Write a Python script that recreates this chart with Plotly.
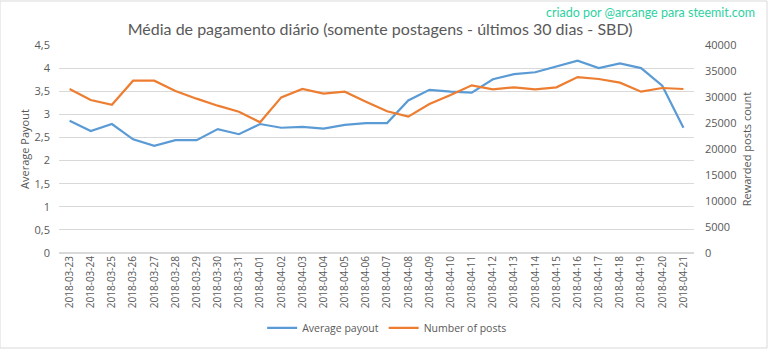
import plotly.graph_objects as go

dates = [
    "2018-03-23", "2018-03-24", "2018-03-25", "2018-03-26", "2018-03-27",
    "2018-03-28", "2018-03-29", "2018-03-30", "2018-03-31", "2018-04-01",
    "2018-04-02", "2018-04-03", "2018-04-04", "2018-04-05", "2018-04-06",
    "2018-04-07", "2018-04-08", "2018-04-09", "2018-04-10", "2018-04-11",
    "2018-04-12", "2018-04-13", "2018-04-14", "2018-04-15", "2018-04-16",
    "2018-04-17", "2018-04-18", "2018-04-19", "2018-04-20", "2018-04-21",
]

average_payout = [
    2.86, 2.64, 2.79, 2.46, 2.32, 2.44, 2.44, 2.68, 2.57, 2.79,
    2.71, 2.73, 2.69, 2.77, 2.81, 2.81, 3.30, 3.53, 3.49, 3.47,
    3.76, 3.87, 3.91, 4.03, 4.16, 4.00, 4.10, 4.00, 3.62, 2.71,
]

number_of_posts = [
    31540, 29420, 28520, 33140, 33140, 31150, 29680, 28330, 27180, 25130,
    29930, 31540, 30640, 31020, 29100, 27250, 26220, 28650, 30380, 32240,
    31470, 31860, 31470, 31860, 33840, 33460, 32760, 31020, 31730, 31540,
]

left_ticks = [0, 0.5, 1, 1.5, 2, 2.5, 3, 3.5, 4, 4.5]
right_ticks = [0, 5000, 10000, 15000, 20000, 25000, 30000, 35000, 40000]

TEXT = "#595959"
GRID = "#d9d9d9"
FONT = "Open Sans"

fig = go.Figure()
fig.add_trace(go.Scatter(
    x=dates, y=average_payout, name="Average payout", mode="lines",
    line=dict(color="#5b9bd5", width=2.2), yaxis="y",
))
fig.add_trace(go.Scatter(
    x=dates, y=number_of_posts, name="Number of posts", mode="lines",
    line=dict(color="#ed7d31", width=2.2), yaxis="y2",
))

fig.update_layout(
    width=768, height=349,
    margin=dict(l=59, r=74, t=45, b=96, autoexpand=False),
    paper_bgcolor="white", plot_bgcolor="white",
    separators=",.",
    font=dict(family=FONT, color=TEXT, size=11),
    title=dict(
        text="Média de pagamento diário (somente postagens - últimos 30 dias - SBD)",
        x=0.495, xanchor="center", y=0.917, yanchor="middle",
        font=dict(family="Lato", size=16, color=TEXT),
    ),
    xaxis=dict(
        type="category", range=[-0.5, 29.5], automargin=False,
        tickangle=-90, tickfont=dict(size=10, color=TEXT),
        showgrid=False, showline=False, ticks="",
    ),
    yaxis=dict(
        range=[0, 4.5], tickvals=left_ticks, automargin=False,
        gridcolor=GRID, gridwidth=1, zeroline=True, zerolinecolor=GRID,
        showline=False, ticks="", ticklabelstandoff=8,
        title=dict(text="Average Payout", font=dict(size=11, color=TEXT), standoff=2),
        tickfont=dict(size=11, color=TEXT),
    ),
    yaxis2=dict(
        range=[0, 40000], tickvals=right_ticks, tickformat="d", automargin=False,
        overlaying="y", side="right", showgrid=False, zeroline=False,
        showline=False, ticks="", ticklabelstandoff=10,
        title=dict(text="Rewarded posts count", font=dict(size=11, color=TEXT), standoff=7),
        tickfont=dict(size=11, color=TEXT),
    ),
    legend=dict(
        orientation="h", x=0.516, xanchor="center", y=-0.36, yanchor="middle",
        font=dict(size=10.5, color=TEXT), bgcolor="rgba(0,0,0,0)",
        itemwidth=30,
    ),
)

fig.add_annotation(
    text="criado por @arcange para steemit.com", xref="paper", yref="paper",
    x=1.099, xanchor="right", y=1.155, yanchor="middle", showarrow=False,
    font=dict(family="Lato", size=12.5, color="#2ed1a2"),
)

# light frame around the whole chart
fig.add_shape(
    type="rect", xref="paper", yref="paper",
    x0=-59 / 635, x1=1 + 73 / 635, y0=-95 / 208, y1=1 + 44 / 208,
    line=dict(color=GRID, width=1),
)

fig.write_html("out.html")
